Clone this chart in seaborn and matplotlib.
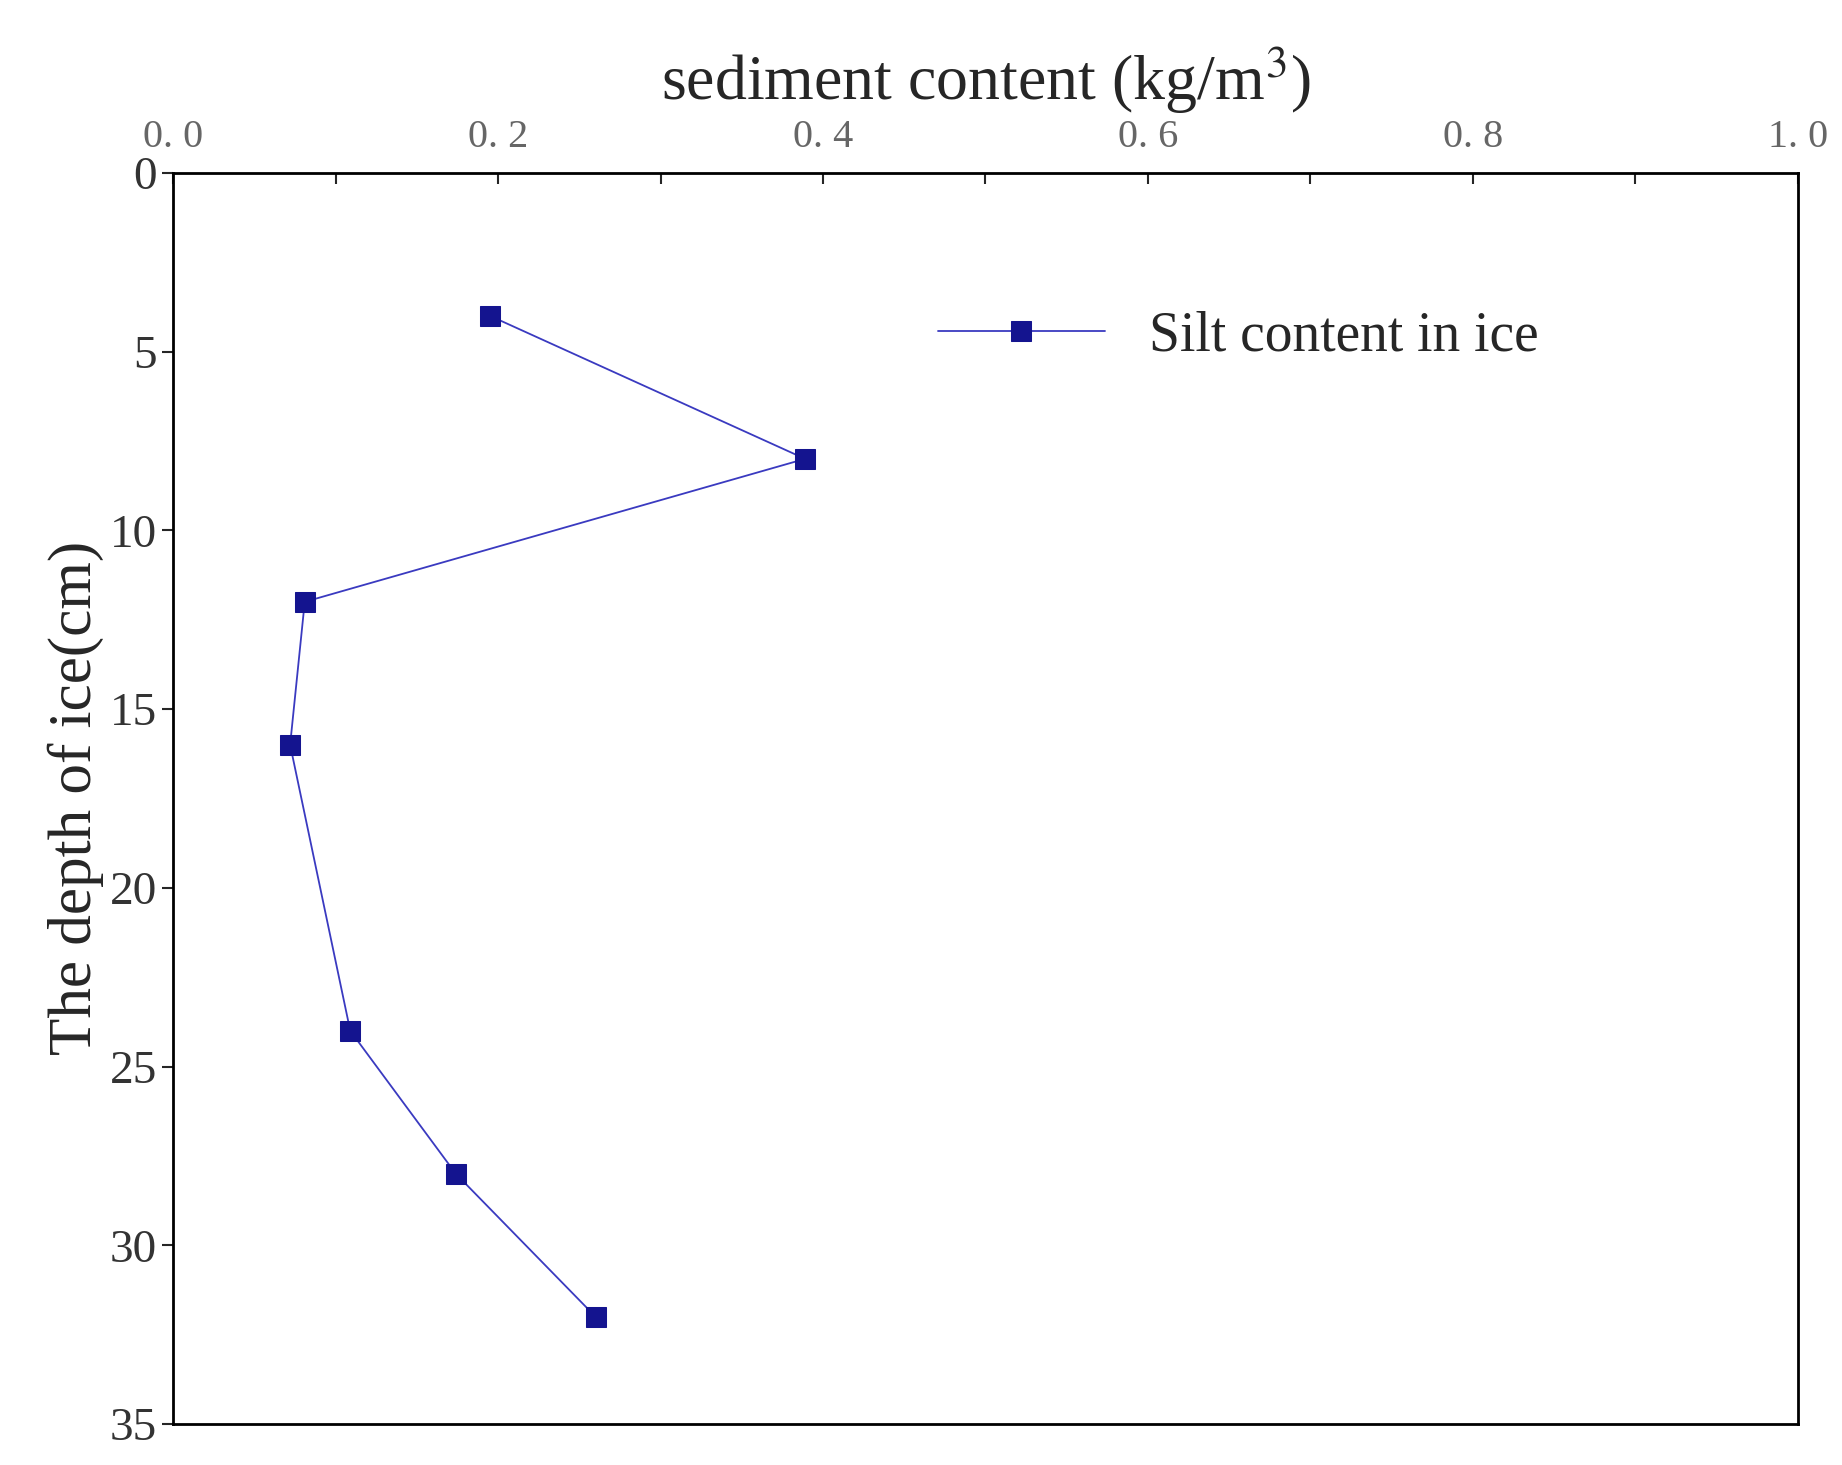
import matplotlib
matplotlib.use("Agg")
import matplotlib.pyplot as plt
import seaborn as sns
import pandas as pd
from matplotlib.ticker import MultipleLocator

depth = [4, 8, 12, 16, 24, 28, 32]
silt = [0.195, 0.389, 0.081, 0.072, 0.109, 0.174, 0.260]
xticks = [0.0, 0.2, 0.4, 0.6, 0.8, 1.0]
xticklabels = ["0. 0", "0. 2", "0. 4", "0. 6", "0. 8", "1. 0"]

sns.set_style("white")
plt.rcParams['font.family'] = ['Liberation Serif', 'DejaVu Serif']
plt.rcParams['mathtext.fontset'] = 'stix'

df = pd.DataFrame({"silt": silt, "depth": depth})
fig = plt.figure(figsize=(18.42, 14.65), dpi=100)
ax = fig.add_axes([0.094, 0.028, 0.882, 0.854])
sns.lineplot(data=df, x="silt", y="depth", sort=False, orient="y", ax=ax,
             color="#3a3ac0", linewidth=1.3, marker="s", markersize=15,
             markerfacecolor="#14148f", markeredgecolor="#14148f",
             label="Silt content in ice")
ax.set_xlim(0, 1.0)
ax.set_ylim(35, 0)
ax.xaxis.tick_top()
ax.xaxis.set_label_position("top")
ax.set_xticks(xticks)
ax.set_xticklabels(xticklabels, fontsize=29, color="#666666")
ax.xaxis.set_minor_locator(MultipleLocator(0.1))
ax.tick_params(axis="x", which="both", direction="in", length=8, width=1.5, pad=12)
ax.set_yticks(range(0, 36, 5))
ax.tick_params(axis="y", direction="out", length=8, width=1.5, labelsize=34,
               left=True, labelcolor="#333333")
ax.set_xlabel(r"sediment content (kg/m$^3$)", fontsize=46, labelpad=14)
ax.set_ylabel("The depth of ice(cm)", fontsize=44, labelpad=4)
for s in ax.spines.values():
    s.set_linewidth(2)
    s.set_color("black")
ax.legend(loc="upper left", bbox_to_anchor=(0.44, 0.93), frameon=False, fontsize=40,
          handlelength=3)
fig.savefig("out.png", dpi=100)
